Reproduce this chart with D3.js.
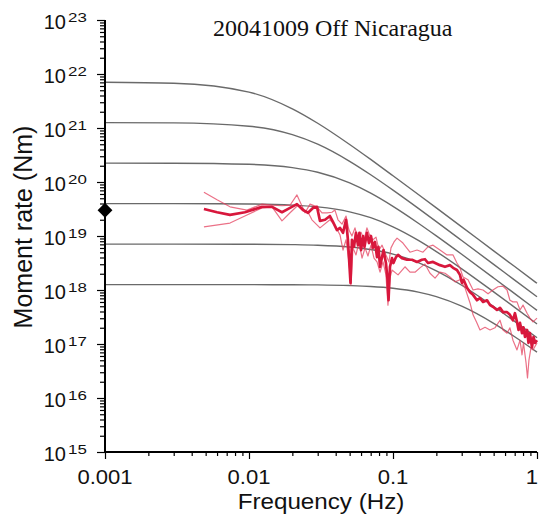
<!DOCTYPE html>
<html>
<head>
<meta charset="utf-8">
<script src="https://cdn.jsdelivr.net/npm/d3@7"></script>
<style>
  body { margin: 0; background: #fff; }
  svg { display: block; }
</style>
</head>
<body>
<svg id="chart" width="539" height="520"></svg>
<script>
// --- data ---
const title = "20041009 Off Nicaragua";
const xTicks = [0.001, 0.01, 0.1, 1];
const xTickLabels = ["0.001", "0.01", "0.1", "1"];
const yExponents = [15, 16, 17, 18, 19, 20, 21, 22, 23];

// source model curves: frequency (Hz) and log10 moment rate for each curve
const modelFreq = [0.001, 0.003, 0.01, 0.02, 0.03, 0.05, 0.07, 0.1, 0.15, 0.2, 0.3, 0.5, 0.7, 1];
const curve1 = [21.848, 21.830, 21.665, 21.355, 21.088, 20.695, 20.418, 20.116, 19.768, 19.520, 19.169, 18.725, 18.434, 18.124];
const curve2 = [21.099, 21.094, 21.033, 20.877, 20.700, 20.383, 20.134, 19.849, 19.511, 19.266, 18.917, 18.475, 18.183, 17.874];
const curve3 = [20.350, 20.348, 20.328, 20.266, 20.180, 19.983, 19.793, 19.549, 19.237, 19.002, 18.661, 18.223, 17.932, 17.623];
const curve4 = [19.600, 19.599, 19.593, 19.572, 19.539, 19.448, 19.339, 19.171, 18.920, 18.712, 18.392, 17.966, 17.679, 17.371];
const curve5 = [18.850, 18.850, 18.848, 18.841, 18.830, 18.796, 18.749, 18.665, 18.508, 18.355, 18.088, 17.695, 17.418, 17.116];
const curve6 = [18.100, 18.100, 18.099, 18.097, 18.094, 18.082, 18.066, 18.033, 17.961, 17.877, 17.700, 17.383, 17.134, 16.849];

// observed spectra: [log10 frequency, log10 moment rate]
const mainSpec = [[-2.313,19.50],[-2.222,19.44],[-2.132,19.39],[-2.028,19.44],[-1.910,19.54],[-1.840,19.54],[-1.771,19.44],[-1.715,19.52],[-1.667,19.59],[-1.625,19.48],[-1.590,19.43],[-1.556,19.52],[-1.528,19.54],[-1.507,19.28],[-1.472,19.30],[-1.438,19.37],[-1.417,19.26],[-1.389,19.11],[-1.368,19.15],[-1.347,19.06],[-1.326,19.30],[-1.313,18.93],[-1.295,18.13],[-1.285,18.93],[-1.271,18.80],[-1.257,19.06],[-1.243,18.83],[-1.233,19.06],[-1.222,18.74],[-1.208,19.00],[-1.198,18.80],[-1.181,19.06],[-1.167,18.87],[-1.153,19.00],[-1.139,18.78],[-1.125,18.89],[-1.111,18.61],[-1.101,18.80],[-1.090,18.43],[-1.076,18.61],[-1.066,18.74],[-1.049,18.50],[-1.038,18.19],[-1.031,17.81],[-1.021,18.43],[-1.007,18.59],[-0.997,18.50],[-0.979,18.61],[-0.965,18.65],[-0.938,18.59],[-0.903,18.56],[-0.868,18.56],[-0.833,18.52],[-0.799,18.56],[-0.778,18.57],[-0.757,18.50],[-0.722,18.52],[-0.674,18.46],[-0.639,18.43],[-0.604,18.46],[-0.583,18.41],[-0.556,18.37],[-0.535,18.28],[-0.521,18.13],[-0.510,18.19],[-0.486,18.04],[-0.465,17.96],[-0.444,17.91],[-0.417,17.81],[-0.396,17.85],[-0.375,17.78],[-0.347,17.81],[-0.326,17.72],[-0.306,17.69],[-0.278,17.63],[-0.257,17.67],[-0.236,17.59],[-0.208,17.59],[-0.188,17.54],[-0.167,17.44],[-0.153,17.57],[-0.139,17.41],[-0.128,17.26],[-0.118,17.39],[-0.104,17.20],[-0.094,17.31],[-0.083,17.13],[-0.069,17.26],[-0.059,17.02],[-0.049,17.20],[-0.035,16.94],[-0.024,17.13],[-0.014,17.02],[0,17.07]];
const upperSpec = [[-2.313,19.81],[-2.222,19.67],[-2.132,19.54],[-2.014,19.48],[-1.910,19.59],[-1.840,19.57],[-1.771,19.56],[-1.715,19.57],[-1.667,19.76],[-1.611,19.43],[-1.576,19.59],[-1.528,19.54],[-1.493,19.43],[-1.458,19.43],[-1.424,19.44],[-1.403,19.48],[-1.382,19.30],[-1.354,19.22],[-1.326,19.37],[-1.306,19.11],[-1.285,19.00],[-1.264,19.15],[-1.243,18.93],[-1.222,19.07],[-1.201,18.93],[-1.181,19.15],[-1.160,19.00],[-1.139,18.93],[-1.118,18.98],[-1.097,18.74],[-1.076,18.83],[-1.049,18.65],[-1.028,18.52],[-1.014,18.78],[-0.993,18.89],[-0.972,18.96],[-0.931,18.87],[-0.882,18.70],[-0.833,18.74],[-0.792,18.70],[-0.757,18.80],[-0.722,18.83],[-0.674,18.74],[-0.625,18.65],[-0.583,18.65],[-0.556,18.50],[-0.535,18.41],[-0.514,18.24],[-0.479,18.19],[-0.444,18.00],[-0.410,18.02],[-0.375,18.00],[-0.340,17.93],[-0.306,18.00],[-0.271,18.06],[-0.236,18.07],[-0.208,18.00],[-0.188,17.81],[-0.167,17.78],[-0.139,17.78],[-0.118,17.63],[-0.097,17.72],[-0.069,17.57],[-0.049,17.48],[-0.028,17.41],[0,17.48]];
const lowerSpec = [[-2.313,19.17],[-2.132,19.24],[-2.014,19.39],[-1.910,19.52],[-1.840,19.54],[-1.771,19.28],[-1.715,19.43],[-1.660,19.57],[-1.590,19.44],[-1.563,19.30],[-1.507,19.15],[-1.438,19.30],[-1.403,19.20],[-1.368,19.02],[-1.347,18.74],[-1.326,18.93],[-1.306,18.52],[-1.292,18.09],[-1.278,18.78],[-1.257,18.65],[-1.236,18.89],[-1.215,18.59],[-1.194,18.78],[-1.174,18.63],[-1.153,18.83],[-1.132,18.59],[-1.111,18.52],[-1.090,18.33],[-1.069,18.52],[-1.049,18.28],[-1.035,17.72],[-1.021,18.22],[-1.007,18.37],[-0.965,18.28],[-0.917,18.43],[-0.882,18.33],[-0.847,18.33],[-0.813,18.41],[-0.778,18.48],[-0.743,18.31],[-0.708,18.22],[-0.674,18.33],[-0.639,18.31],[-0.604,18.24],[-0.569,18.15],[-0.535,18.19],[-0.500,18.04],[-0.465,17.76],[-0.444,17.54],[-0.417,17.39],[-0.396,17.26],[-0.361,17.31],[-0.326,17.26],[-0.292,17.30],[-0.257,17.44],[-0.236,17.26],[-0.208,17.20],[-0.188,17.30],[-0.167,17.07],[-0.139,16.89],[-0.118,17.07],[-0.104,16.80],[-0.094,17.02],[-0.076,16.65],[-0.066,16.37],[-0.056,16.70],[-0.042,16.93],[-0.028,16.89],[0,17.02]];

// long-period moment marker
const markerFreq = 0.001;
const markerMoment = 3e19;

// --- drawing ---
const svg = d3.select("#chart");
const margin = { top: 20, right: 2, bottom: 68, left: 105 };
const width = +svg.attr("width") - margin.left - margin.right;
const height = +svg.attr("height") - margin.top - margin.bottom;

const x = d3.scaleLog().domain([0.001, 1]).range([0, width]);
const y = d3.scaleLog().domain([1e15, 1e23]).range([height, 0]);

const g = svg.append("g")
    .attr("transform", `translate(${margin.left},${margin.top})`);

g.append("clipPath").attr("id", "plot")
  .append("rect").attr("x", 0).attr("y", -2).attr("width", width + 2).attr("height", height + 2);

const line = d3.line()
    .x(d => x(d[0]))
    .y(d => y(d[1]));

// model curves
const curves = [curve1, curve2, curve3, curve4, curve5, curve6];
g.append("g").attr("clip-path", "url(#plot)")
  .selectAll(".model")
  .data(curves)
  .enter().append("path")
    .attr("class", "model")
    .attr("fill", "none")
    .attr("stroke", "#6a6a6a")
    .attr("stroke-width", 1.4)
    .attr("d", c => line.curve(d3.curveMonotoneX)(c.map((v, i) => [modelFreq[i], Math.pow(10, v)])));

const toPts = s => s.map(d => [Math.pow(10, d[0]), Math.pow(10, d[1])]);
const spec = g.append("g").attr("clip-path", "url(#plot)");

spec.selectAll(".thin")
  .data([upperSpec, lowerSpec])
  .enter().append("path")
    .attr("class", "thin")
    .attr("fill", "none")
    .attr("stroke", "#e4415f")
    .attr("stroke-opacity", 0.75)
    .attr("stroke-width", 1.2)
    .attr("stroke-linejoin", "round")
    .attr("d", s => line.curve(d3.curveLinear)(toPts(s)));

spec.append("path")
    .attr("fill", "none")
    .attr("stroke", "#d8173c")
    .attr("stroke-width", 2.7)
    .attr("stroke-linejoin", "round")
    .attr("d", line.curve(d3.curveLinear)(toPts(mainSpec)));

// minor tick values
const xMinor = [];
for (let e = -3; e < 0; e++) for (let k = 2; k <= 9; k++) xMinor.push(k * Math.pow(10, e));
const yMinor = [];
for (let e = 15; e < 23; e++) for (let k = 2; k <= 9; k++) yMinor.push(k * Math.pow(10, e));

function styleAxis(sel) {
  sel.select(".domain").remove();
  sel.selectAll("line").attr("stroke", "#000").attr("stroke-width", 1.2);
}

g.append("g").attr("transform", `translate(0,${height})`)
  .call(d3.axisBottom(x).tickValues(xMinor).tickSize(4).tickFormat(""))
  .call(styleAxis);
g.append("g").attr("transform", `translate(0,${height})`)
  .call(d3.axisBottom(x).tickValues(xTicks).tickSize(7).tickFormat(""))
  .call(styleAxis);
g.append("g")
  .call(d3.axisLeft(y).tickValues(yMinor).tickSize(5).tickFormat(""))
  .call(styleAxis);
g.append("g")
  .call(d3.axisLeft(y).tickValues(yExponents.map(e => Math.pow(10, e))).tickSize(8).tickFormat(""))
  .call(styleAxis);

// axis lines
g.append("line").attr("x1", 0).attr("x2", 0).attr("y1", 0).attr("y2", height + 1)
  .attr("stroke", "#000").attr("stroke-width", 2);
g.append("line").attr("x1", -1).attr("x2", width).attr("y1", height).attr("y2", height)
  .attr("stroke", "#000").attr("stroke-width", 2);

// marker diamond
g.append("path")
    .attr("d", d3.symbol().type(d3.symbolSquare).size(110)())
    .attr("transform", `translate(${x(markerFreq)},${y(markerMoment)}) rotate(45)`)
    .attr("fill", "#000");

// tick labels (the last one sits at the right edge, so anchor it at its end)
const sans = "'Liberation Sans', Arial, Helvetica, sans-serif";
const last = xTicks.length - 1;
g.selectAll(".xlab")
  .data(xTicks)
  .enter().append("text")
    .attr("class", "xlab")
    .attr("transform", (d, i) => `translate(${i === last ? width + 1 : x(d)},${height + 32}) scale(1.05,1)`)
    .attr("text-anchor", (d, i) => i === last ? "end" : "middle")
    .attr("font-family", sans)
    .attr("font-size", 21)
    .attr("fill", "#111")
    .text((d, i) => xTickLabels[i]);

const ylab = g.selectAll(".ylab")
  .data(yExponents)
  .enter().append("g")
    .attr("class", "ylab")
    .attr("transform", e => `translate(0,${y(Math.pow(10, e))})`);
ylab.append("text")
    .attr("x", -39).attr("y", 9)
    .attr("text-anchor", "end")
    .attr("font-family", sans)
    .attr("font-size", 20)
    .attr("fill", "#111")
    .text("10");
ylab.append("text")
    .attr("transform", "translate(-37,1.5) scale(1.3,1)")
    .attr("font-family", sans)
    .attr("font-size", 13)
    .attr("fill", "#111")
    .text(e => e);

// axis titles
svg.append("text")
    .attr("transform", `translate(${margin.left + width / 2},509) scale(1.1,1)`)
    .attr("text-anchor", "middle")
    .attr("font-family", sans)
    .attr("font-size", 22)
    .attr("fill", "#111")
    .text("Frequency (Hz)");

svg.append("text")
    .attr("transform", "translate(32,227) rotate(-90)")
    .attr("text-anchor", "middle")
    .attr("font-family", sans)
    .attr("font-size", 25)
    .attr("fill", "#111")
    .text("Moment rate (Nm)");

svg.append("text")
    .attr("x", 213).attr("y", 36)
    .attr("font-family", "'Liberation Serif', 'Times New Roman', serif")
    .attr("font-size", 24)
    .attr("fill", "#111")
    .text(title);
</script>
</body>
</html>
